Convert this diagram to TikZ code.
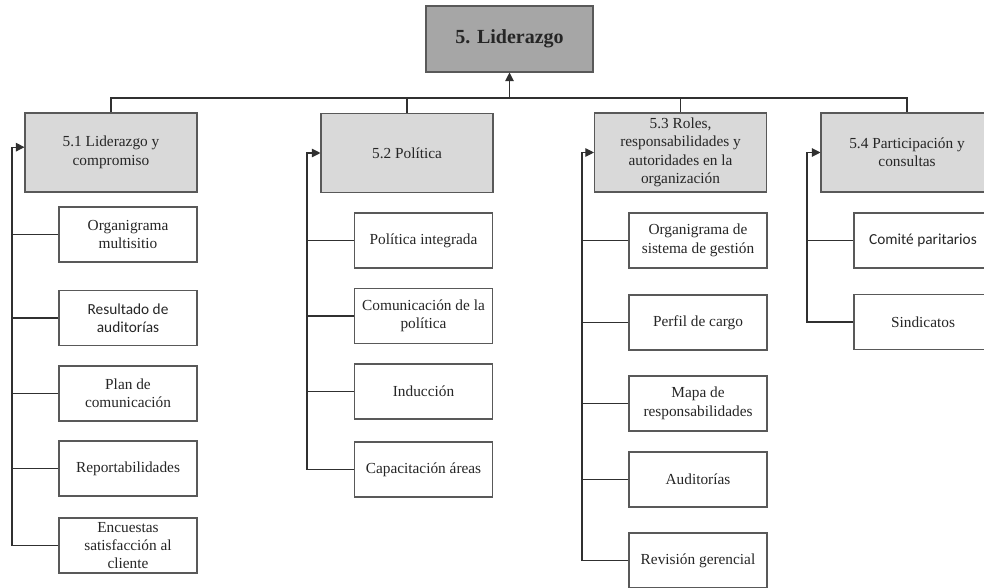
\documentclass[tikz,border=0pt]{standalone}
\usepackage{fontspec}
\setmainfont{Liberation Serif}
\newfontfamily\calib{Carlito}
\usetikzlibrary{arrows.meta}
\definecolor{txt}{HTML}{262626}
\definecolor{bord}{HTML}{595959}
\definecolor{lnk}{HTML}{303030}
\definecolor{hfill}{HTML}{D9D9D9}
\definecolor{tfill}{HTML}{A6A6A6}
\tikzset{
  base/.style={draw=bord, line width=0.8pt, align=center, text=txt, inner sep=2pt,
    font=\fontsize{11.5pt}{13.8pt}\selectfont},
  topbox/.style={base, fill=tfill, minimum width=125.25pt, minimum height=49.5pt,
    font=\fontsize{15pt}{18pt}\selectfont\bfseries},
  headbox/.style={base, fill=hfill, minimum width=129pt, minimum height=59.25pt},
  childbox/.style={base, fill=white, minimum width=103.5pt, minimum height=41.25pt},
  link/.style={draw=lnk, line width=0.8pt},
  arr/.style={link, -{Triangle[length=6.5pt,width=6.5pt]}}
}
\begin{document}
\begin{tikzpicture}[x=0.75pt,y=-0.75pt]
\useasboundingbox (0,0) rectangle (984,588);
\clip (0,0) rectangle (984,588);

% top
\node[topbox] (top) at (509.5,39) {5. Liderazgo};
% headers
\node[headbox] (h1) at (111,152.5) {5.1 Liderazgo y\\compromiso};
\node[headbox] (h2) at (407,153) {5.2 Política};
\node[headbox] (h3) at (680.5,152.5) {5.3 Roles,\\responsabilidades y\\autoridades en la\\organización};
\node[headbox] (h4) at (907,152.5) {5.4 Participación y\\consultas};

% column 1
\node[childbox] (c11) at (128,234.5) {Organigrama\\multisitio};
\node[childbox] (c12) at (128,318) {\calib Resultado de\\\calib auditorías};
\node[childbox] (c13) at (128,393.5) {Plan de\\comunicación};
\node[childbox] (c14) at (128,468.5) {Reportabilidades};
\node[childbox] (c15) at (128,545.5) {Encuestas\\satisfacción al\\cliente};

% column 2
\node[childbox] (c21) at (423.5,240.5) {Política integrada};
\node[childbox] (c22) at (423.5,316) {Comunicación de la\\política};
\node[childbox] (c23) at (423.5,391.5) {Inducción};
\node[childbox] (c24) at (423.5,469.5) {Capacitación áreas};

% column 3
\node[childbox] (c31) at (698,240.5) {Organigrama de\\sistema de gestión};
\node[childbox] (c32) at (698,322.5) {Perfil de cargo};
\node[childbox] (c33) at (698,403.5) {Mapa de\\responsabilidades};
\node[childbox] (c34) at (698,479.5) {Auditorías};
\node[childbox] (c35) at (698,560.5) {Revisión gerencial};

% column 4
\node[childbox] (c41) at (923,240.5) {\calib Comité paritarios};
\node[childbox] (c42) at (923,322) {Sindicatos};

% bus coordinates
\coordinate (bus1) at (12,0);
\coordinate (bus2) at (307,0);
\coordinate (bus3) at (582,0);
\coordinate (bus4) at (807,0);
\coordinate (hub) at (509.5,98);

% top connectors
\draw[link] (h1.north) |- (hub) -| (h4.north);
\draw[link] (h2.north) -- (h2.north |- hub);
\draw[link] (h3.north) -- (h3.north |- hub);
\draw[arr] (hub) -- (top.south);

% column 1 connectors
\draw[arr] (c15.west) -- (c15.west -| bus1) |- ([yshift=4pt]h1.west);
\foreach \c in {c11,c12,c13,c14} \draw[link] (\c.west) -- (\c.west -| bus1);
% column 2
\draw[arr] (c24.west) -- (c24.west -| bus2) |- (h2.west);
\foreach \c in {c21,c22,c23} \draw[link] (\c.west) -- (\c.west -| bus2);
% column 3
\draw[arr] (c35.west) -- (c35.west -| bus3) |- (h3.west);
\foreach \c in {c31,c32,c33,c34} \draw[link] (\c.west) -- (\c.west -| bus3);
% column 4
\draw[arr] (c42.west) -- (c42.west -| bus4) |- (h4.west);
\draw[link] (c41.west) -- (c41.west -| bus4);
\end{tikzpicture}
\end{document}
